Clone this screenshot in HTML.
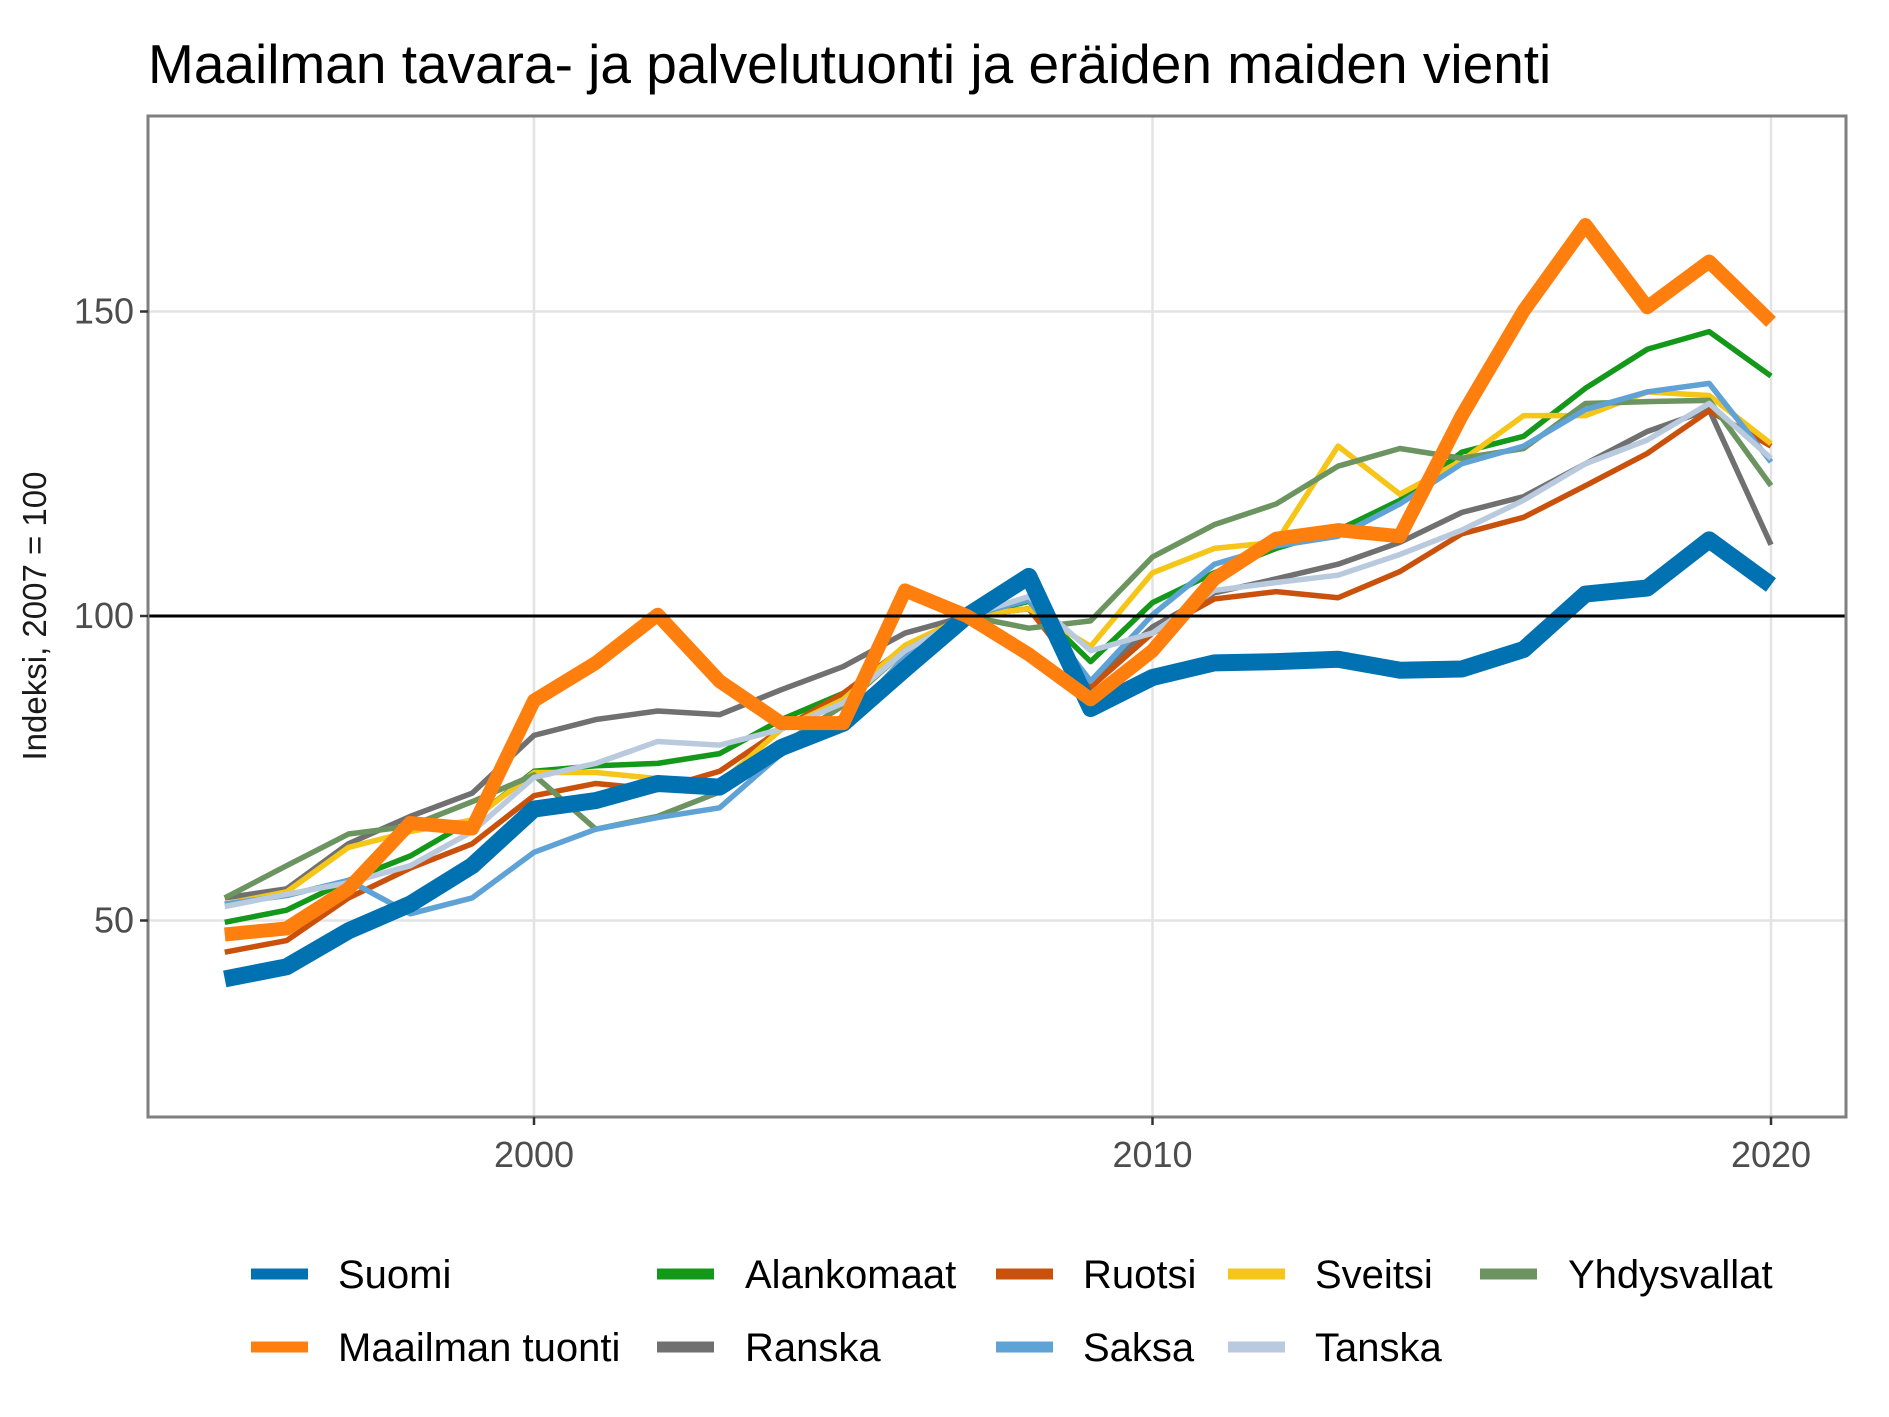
<!DOCTYPE html>
<html><head><meta charset="utf-8">
<style>
html,body{margin:0;padding:0;background:#fff;}
svg{display:block;font-family:"Liberation Sans",Arial,sans-serif;}
</style></head>
<body>
<svg id="chart" width="1889" height="1417" viewBox="0 0 1889 1417" xmlns="http://www.w3.org/2000/svg">
<rect x="0" y="0" width="1889" height="1417" fill="#fff"/>
<text x="148" y="83" font-size="55" fill="#000">Maailman tavara- ja palvelutuonti ja eräiden maiden vienti</text>
<g id="grid"></g>
<g id="lines"></g>
<rect x="148" y="116" width="1698" height="1001" fill="none" stroke="#7f7f7f" stroke-width="3"/>
<g id="axes"></g>
<text transform="translate(46,616) rotate(-90)" text-anchor="middle" font-size="33" fill="#1a1a1a">Indeksi, 2007 = 100</text>
<g id="legend"></g>
</svg>
<script>
const years = [1995,1996,1997,1998,1999,2000,2001,2002,2003,2004,2005,2006,2007,2008,2009,2010,2011,2012,2013,2014,2015,2016,2017,2018,2019,2020];
const suomi = [40.4,42.4,48.3,52.7,59,68.3,69.7,72.5,71.9,78.4,82.4,91.3,100,106.5,84.8,89.9,92.3,92.5,92.9,91.1,91.3,94.5,103.6,104.6,112.5,105.1];
const maailma = [47.7,48.7,55.2,66,65.1,86.1,92.3,100.2,89.3,82.4,82.4,104.2,100,93.7,86.3,94.3,106.1,112.7,114.1,113.1,132.9,150.1,164.2,150.7,158.2,148.3];
const alankomaat = [49.7,51.7,56.6,60.6,66.5,74.5,75.4,75.8,77.4,83,87.3,94.3,100,102.4,92.5,102.2,107.1,111.1,114.1,119,126.9,129.5,137.4,143.8,146.7,139.4];
const ranska = [53.7,55.2,62.6,67.1,70.9,80.4,83,84.4,83.8,87.9,91.7,97.2,100,101.2,89.3,98.2,103.8,106.1,108.5,112.1,117,119.6,125,130.3,133.9,111.7];
const ruotsi = [44.8,46.7,53.7,58.6,62.6,70.5,72.5,71.5,74.5,81.4,87.3,94.9,100,101.2,88.3,97.2,102.8,104,103,107.3,113.5,116.2,121.4,126.7,133.7,127.9];
const sveitsi = [52.7,54.7,62,64.6,66.5,74.3,74.3,73.3,72.5,81.4,86.3,95.2,100,101.2,95,107.1,111.1,112.1,127.9,120,125.5,132.9,132.9,136.8,136.2,128.3];
const yhdysvallat = [53.7,59,64.2,65.5,69.5,73.9,65,67.1,71.1,78.8,85.3,94.3,100,98,99.2,109.7,115,118.4,124.6,127.5,125.9,127.5,134.9,135.2,135.4,121.4];
const saksa = [52.7,54.1,56.6,51.1,53.7,61.2,65,66.9,68.5,77.4,82.4,93.3,100,102.6,89.3,100.2,108.5,111.5,113.1,118.4,125,127.9,133.9,136.8,138.2,125.3];
const tanska = [52.3,54.3,56.2,59,64.6,73.5,75.8,79.4,78.8,81.4,85.7,94.3,100,103.2,94.3,97.2,104.2,105.5,106.7,110.1,114.1,119,125,128.9,134.9,125.9];
const yTicks = [50,100,150];
const xTicks = [2000,2010,2020];
const NS = "http://www.w3.org/2000/svg";
const X0=148,X1=1846,Y0=116,Y1=1117;
function xs(v){return 534+(v-2000)*61.85;}
function ys(v){return 616-(v-100)*6.09;}
function mk(tag,attrs,parent){const e=document.createElementNS(NS,tag);for(const k in attrs)e.setAttribute(k,attrs[k]);parent.appendChild(e);return e;}
const grid=document.getElementById('grid'), axes=document.getElementById('axes'), lines=document.getElementById('lines'), legend=document.getElementById('legend');
yTicks.forEach(t=>{
  const l=mk('line',{x1:X0,x2:X1,y1:ys(t),y2:ys(t),stroke:'#e3e3e3','stroke-width':2.5},grid);
  
  
  const tk=mk('line',{x1:X0-8,x2:X0,y1:ys(t),y2:ys(t),stroke:'#333','stroke-width':2.5},axes);
  
  
  const tx=mk('text',{x:X0-14,y:ys(t)+12,'text-anchor':'end','font-size':36,fill:'#4d4d4d'},axes);
  tx.textContent=t;
  
  
});
xTicks.forEach(t=>{
  const l=mk('line',{x1:xs(t),x2:xs(t),y1:Y0,y2:Y1,stroke:'#e3e3e3','stroke-width':2.5},grid);
  
  
  const tk=mk('line',{x1:xs(t),x2:xs(t),y1:Y1,y2:Y1+8,stroke:'#333','stroke-width':2.5},axes);
  
  
  const tx=mk('text',{x:xs(t),y:Y1+50,'text-anchor':'middle','font-size':36,fill:'#4d4d4d'},axes);
  tx.textContent=t;
  
  
});
const series=[
 {n:'Alankomaat',d:alankomaat,c:'#13981A',w:5.5},
 {n:'Ranska',d:ranska,c:'#707070',w:5.5},
 {n:'Ruotsi',d:ruotsi,c:'#C9510C',w:5.5},
 {n:'Sveitsi',d:sveitsi,c:'#F5C518',w:5.5},
 {n:'Yhdysvallat',d:yhdysvallat,c:'#6C9460',w:5.5},
 {n:'Saksa',d:saksa,c:'#5FA2D5',w:5.5},
 {n:'Tanska',d:tanska,c:'#B9CADF',w:5.5},
 {n:'Suomi',d:suomi,c:'#0072B2',w:17},
 {n:'Maailman tuonti',d:maailma,c:'#FF7F0E',w:14}
];
series.forEach(s=>{
  const p=mk('polyline',{points:s.d.map((v,i)=>xs(years[i])+','+ys(v)).join(' '),fill:'none',stroke:s.c,'stroke-width':s.w,'stroke-linejoin':'round'},lines);
  
  
});
const ref=mk('line',{x1:X0,x2:X1,y1:ys(100),y2:ys(100),stroke:'#000','stroke-width':3},lines);


const leg=[
 ['Suomi','#0072B2',251,338,1274],['Alankomaat','#13981A',657,745,1274],['Ruotsi','#C9510C',996,1083,1274],['Sveitsi','#F5C518',1228,1315,1274],['Yhdysvallat','#6C9460',1480,1568,1274],
 ['Maailman tuonti','#FF7F0E',251,338,1347],['Ranska','#707070',657,745,1347],['Saksa','#5FA2D5',996,1083,1347],['Tanska','#B9CADF',1228,1315,1347]
];
leg.forEach(e=>{
  const g=mk('g',{},legend);
  
  
  mk('line',{x1:e[2],x2:e[2]+57,y1:e[4],y2:e[4],stroke:e[1],'stroke-width':11},g);
  const t=mk('text',{x:e[3],y:e[4]+14,'font-size':40,fill:'#000'},g);
  t.textContent=e[0];
});
</script>
</body></html>
